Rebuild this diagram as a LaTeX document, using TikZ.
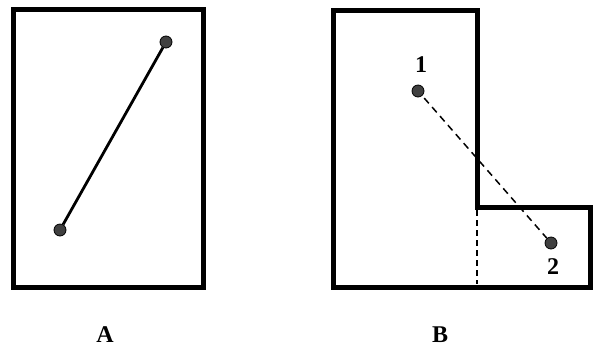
\documentclass[tikz,border=0pt]{standalone}
\usepackage{fontspec}
\setmainfont{Liberation Serif}
\begin{document}
\begin{tikzpicture}[x=1pt,y=-1pt,
  frame/.style={line width=5pt, line join=miter},
  dot/.style={circle, fill=black!75, draw=black, line width=0.8pt, minimum size=12pt, inner sep=0pt},
  lbl/.style={font=\bfseries\fontsize{24}{24}\selectfont, inner sep=0pt},
  num/.style={font=\bfseries\fontsize{24}{24}\selectfont, inner sep=0pt}]
\useasboundingbox (0,0) rectangle (593,349);
% A
\draw[frame] (13,9) rectangle (203,287);
\node[dot] (a1) at (166,42) {};
\node[dot] (a2) at (60,230) {};
\draw[line width=2.8pt] (a1) -- (a2);
\node[lbl] (la) at (105,335) {A};
% B
\draw[frame] (333,10) -- (477,10) -- (477,207) -- (590,207) -- (590,287) -- (333,287) -- cycle;
\coordinate (c1) at (477,210);
\coordinate (c2) at (477,284);
\draw[line width=1.5pt, dash pattern=on 6pt off 4pt] (c1) -- (c2);
\node[dot] (b1) at (418,91) {};
\node[dot] (b2) at (551,243) {};
\draw[line width=1.5pt, dash pattern=on 7pt off 5pt, shorten <=3pt] (b1) -- (b2);
\node[num] (n1) at (421,65) {1};
\node[num] (n2) at (553,267) {2};
\node[lbl] (lb) at (440,335) {B};
\end{tikzpicture}
\end{document}
